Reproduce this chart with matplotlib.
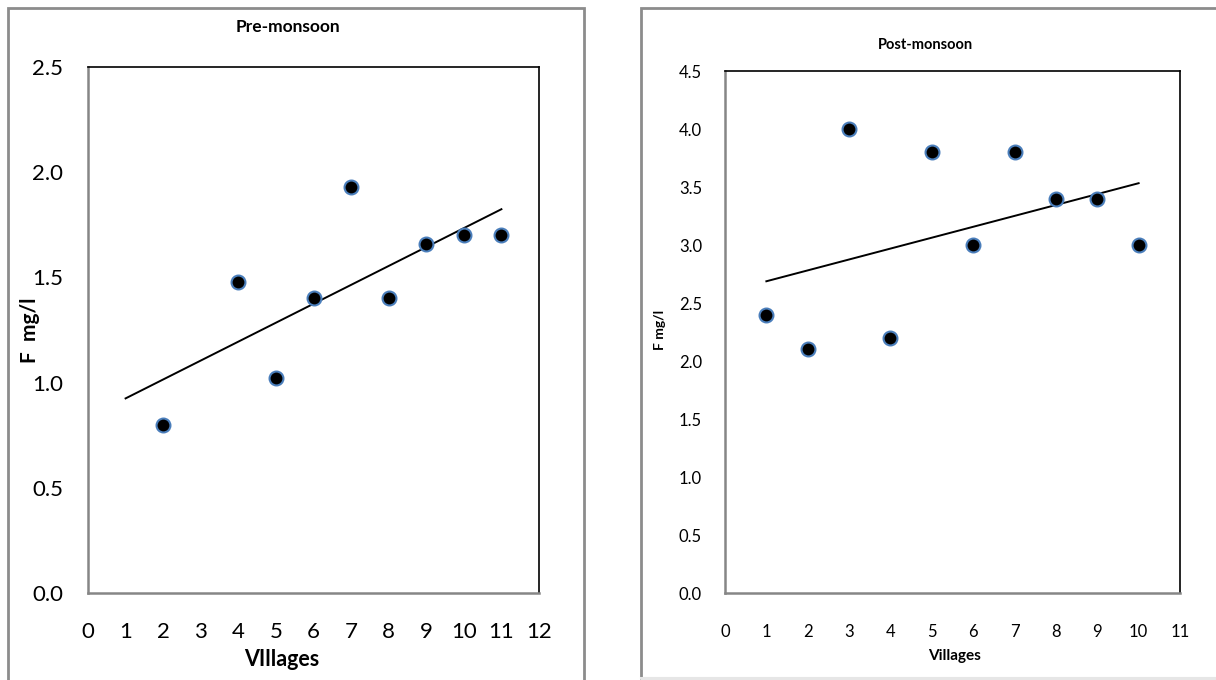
import numpy as np
import matplotlib
matplotlib.use('Agg')
import matplotlib.pyplot as plt
from matplotlib.patches import Rectangle

plt.rcParams['font.family'] = ['Lato', 'DejaVu Sans']

# Pre-monsoon fluoride values
pre_villages = [2, 4, 5, 6, 7, 8, 9, 10, 11]
pre_fluoride = [0.80, 1.48, 1.02, 1.40, 1.93, 1.40, 1.66, 1.70, 1.70]
pre_trend_x = [1, 11]

# Post-monsoon fluoride values
post_villages = [1, 2, 3, 4, 5, 6, 7, 8, 9, 10]
post_fluoride = [2.4, 2.1, 4.0, 2.2, 3.8, 3.0, 3.8, 3.4, 3.4, 3.0]
post_trend_x = [1, 10]

W, H = 1216, 680
fig = plt.figure(figsize=(W / 100, H / 100), dpi=100)


def px(x0, y0, x1, y1):
    """pixel box -> figure fraction rect"""
    return [x0 / W, 1 - y1 / H, (x1 - x0) / W, (y1 - y0) / H]


# outer chart borders
fig.patches.append(Rectangle((8 / W, -0.01), (584 - 8) / W, 1 - 8 / H + 0.01,
                             transform=fig.transFigure, fill=False,
                             edgecolor='#8c8c8c', linewidth=2))
fig.patches.append(Rectangle((641 / W, 1 - 679 / H), 0.5, (679 - 8) / H,
                             transform=fig.transFigure, fill=False,
                             edgecolor='#8c8c8c', linewidth=2))
fig.patches.append(Rectangle((641 / W, 1 - 679 / H), 0.5, 0.001,
                             transform=fig.transFigure, fill=False,
                             edgecolor='#e6e6e6', linewidth=1.5))


def style_axis(ax, fs, ypad, xpad):
    for side in ['left', 'bottom']:
        ax.spines[side].set_color('#868686')
        ax.spines[side].set_linewidth(1.8)
    for side in ['top', 'right']:
        ax.spines[side].set_color('black')
        ax.spines[side].set_linewidth(1.2)
    ax.tick_params(axis='both', length=0, labelsize=fs)
    ax.tick_params(axis='y', pad=ypad)
    ax.tick_params(axis='x', pad=xpad)


def scatter_with_trend(ax, x, y, trend_x):
    ax.plot(x, y, linestyle='none', marker='o', markersize=10,
            markerfacecolor='black', markeredgecolor='#4a7ebb',
            markeredgewidth=1.5, zorder=3)
    slope, intercept = np.polyfit(x, y, 1)
    tx = np.array(trend_x)
    ax.plot(tx, slope * tx + intercept, color='black', linewidth=1.4, zorder=2)


# Pre-monsoon
ax1 = fig.add_axes(px(88, 67, 539, 593))
scatter_with_trend(ax1, pre_villages, pre_fluoride, pre_trend_x)
ax1.set_xlim(0, 12)
ax1.set_ylim(0, 2.5)
ax1.set_xticks(range(0, 13))
ax1.set_yticks(np.arange(0, 2.51, 0.5))
ax1.set_yticklabels([f'{v:.1f}' for v in np.arange(0, 2.51, 0.5)])
style_axis(ax1, 16, 18, 21)
fig.text(288 / W, 1 - 27 / H, 'Pre-monsoon', ha='center', va='center',
         fontsize=12.5, fontweight='bold')
fig.text(282 / W, 1 - 660 / H, 'VIllages', ha='center', va='center',
         fontsize=15.5, fontweight='bold')
fig.text(30 / W, 1 - 330 / H, 'F  mg/l', ha='center', va='center',
         rotation=90, fontsize=15, fontweight='bold')

# Post-monsoon
ax2 = fig.add_axes(px(725, 71, 1180, 593))
scatter_with_trend(ax2, post_villages, post_fluoride, post_trend_x)
ax2.set_xlim(0, 11)
ax2.set_ylim(0, 4.5)
ax2.set_xticks(range(0, 12))
ax2.set_yticks(np.arange(0, 4.51, 0.5))
ax2.set_yticklabels([f'{v:.1f}' for v in np.arange(0, 4.51, 0.5)])
style_axis(ax2, 12, 16.5, 22)
fig.text(925 / W, 1 - 45 / H, 'Post-monsoon', ha='center', va='center',
         fontsize=10.5, fontweight='bold')
fig.text(955 / W, 1 - 656 / H, 'Villages', ha='center', va='center',
         fontsize=11, fontweight='bold')
fig.text(660 / W, 1 - 330 / H, 'F mg/l', ha='center', va='center',
         rotation=90, fontsize=10, fontweight='bold')

fig.savefig('out.png', dpi=100)
